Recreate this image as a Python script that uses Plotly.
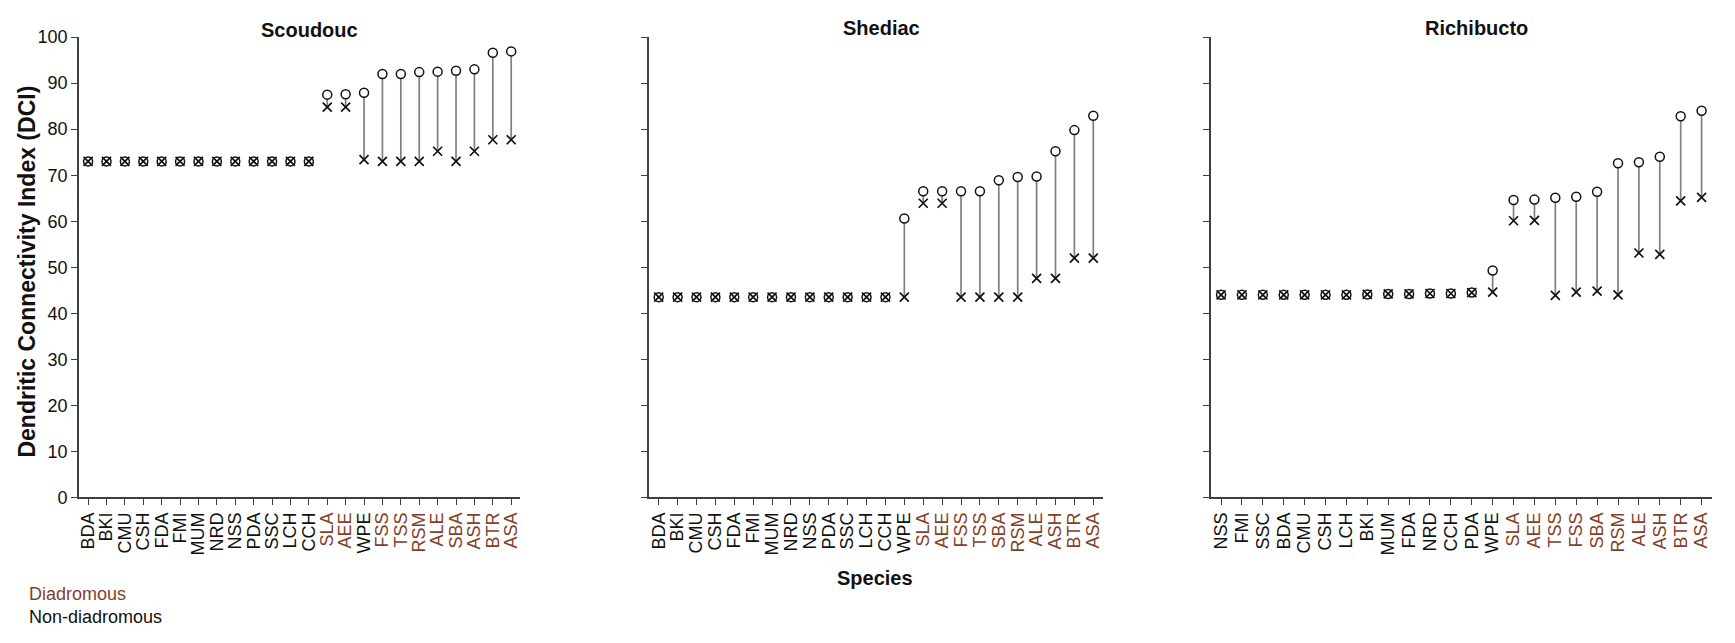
import plotly.graph_objects as go

# Species order per estuary (x axis categories)
scoudouc_species = ["BDA", "BKI", "CMU", "CSH", "FDA", "FMI", "MUM", "NRD", "NSS", "PDA",
                    "SSC", "LCH", "CCH", "SLA", "AEE", "WPE", "FSS", "TSS", "RSM", "ALE",
                    "SBA", "ASH", "BTR", "ASA"]
scoudouc_circle = [73.0, 73.0, 73.0, 73.0, 73.0, 73.0, 73.0, 73.0, 73.0, 73.0,
                   73.0, 73.0, 73.0, 87.5, 87.6, 87.9, 92.0, 92.0, 92.4, 92.5,
                   92.7, 93.0, 96.6, 96.9]
scoudouc_cross = [73.0, 73.0, 73.0, 73.0, 73.0, 73.0, 73.0, 73.0, 73.0, 73.0,
                  73.0, 73.0, 73.0, 84.8, 84.8, 73.4, 73.0, 73.0, 73.0, 75.2,
                  73.0, 75.2, 77.7, 77.7]

shediac_species = ["BDA", "BKI", "CMU", "CSH", "FDA", "FMI", "MUM", "NRD", "NSS", "PDA",
                   "SSC", "LCH", "CCH", "WPE", "SLA", "AEE", "FSS", "TSS", "SBA", "RSM",
                   "ALE", "ASH", "BTR", "ASA"]
shediac_circle = [43.5, 43.5, 43.5, 43.5, 43.5, 43.5, 43.5, 43.5, 43.5, 43.5,
                  43.5, 43.5, 43.5, 60.6, 66.5, 66.5, 66.5, 66.5, 68.9, 69.6,
                  69.7, 75.2, 79.8, 82.9]
shediac_cross = [43.5, 43.5, 43.5, 43.5, 43.5, 43.5, 43.5, 43.5, 43.5, 43.5,
                 43.5, 43.5, 43.5, 43.5, 63.9, 63.9, 43.5, 43.5, 43.5, 43.5,
                 47.6, 47.6, 52.0, 52.0]

richibucto_species = ["NSS", "FMI", "SSC", "BDA", "CMU", "CSH", "LCH", "BKI", "MUM", "FDA",
                      "NRD", "CCH", "PDA", "WPE", "SLA", "AEE", "TSS", "FSS", "SBA", "RSM",
                      "ALE", "ASH", "BTR", "ASA"]
richibucto_circle = [44.0, 44.0, 44.0, 44.0, 44.0, 44.0, 44.0, 44.1, 44.2, 44.2,
                     44.3, 44.3, 44.5, 49.3, 64.6, 64.7, 65.1, 65.3, 66.4, 72.6,
                     72.8, 74.0, 82.8, 84.0]
richibucto_cross = [44.0, 44.0, 44.0, 44.0, 44.0, 44.0, 44.0, 44.1, 44.2, 44.2,
                    44.3, 44.3, 44.5, 44.6, 60.1, 60.2, 43.9, 44.6, 44.8, 44.0,
                    53.1, 52.8, 64.4, 65.2]

diadromous = ["SLA", "AEE", "FSS", "TSS", "RSM", "ALE", "SBA", "ASH", "BTR", "ASA"]

panel_titles = ["Scoudouc", "Shediac", "Richibucto"]
y_ticks = [0, 10, 20, 30, 40, 50, 60, 70, 80, 90, 100]

BROWN = "#843f2b"
INK = "#111111"
FONT = "Liberation Sans, Arial, sans-serif"
W, H = 1735, 643

panels = [
    (scoudouc_species, scoudouc_circle, scoudouc_cross),
    (shediac_species, shediac_circle, shediac_cross),
    (richibucto_species, richibucto_circle, richibucto_cross),
]
# plot-area pixel extents (left, right) of each panel
x_px = [(78, 520), (649, 1103), (1211, 1713)]
y_bottom_px, y_top_px = 503, 28
title_px = [(309, 21), (882, 19), (1477, 19)]

fig = go.Figure()
layout = {}

for i, (species, circ, cross) in enumerate(panels):
    n = "" if i == 0 else str(i + 1)
    xa, ya = "x" + n, "y" + n

    # grey stems joining the two values of each species
    sx, sy = [], []
    for s, c, x in zip(species, circ, cross):
        if abs(c - x) > 0.05:
            sx += [s, s, None]
            sy += [c, x, None]
    fig.add_trace(go.Scatter(x=sx, y=sy, mode="lines", xaxis=xa, yaxis=ya,
                             line=dict(color="#7f7f7f", width=1.7),
                             hoverinfo="skip", showlegend=False))
    fig.add_trace(go.Scatter(x=species, y=circ, mode="markers", xaxis=xa, yaxis=ya,
                             marker=dict(symbol="circle", size=9, color="white",
                                         line=dict(color=INK, width=1.5)),
                             showlegend=False))
    fig.add_trace(go.Scatter(x=species, y=cross, mode="markers", xaxis=xa, yaxis=ya,
                             marker=dict(symbol="x-thin-open", size=9, color=INK,
                                         line=dict(color=INK, width=1.7)),
                             showlegend=False))

    ticktext = [f"<span style='color:{BROWN}'>{s}</span>" if s in diadromous else s
                for s in species]
    l, r = x_px[i]
    layout["xaxis" + n] = dict(
        domain=[l / W, r / W], anchor=ya, type="category",
        categoryarray=species, categoryorder="array",
        range=[-0.5, len(species) - 0.5],
        tickvals=species, ticktext=ticktext, tickangle=-90,
        tickfont=dict(family=FONT, size=18, color=INK),
        ticks="outside", ticklen=6, tickwidth=1.4, tickcolor="#404040",
        showline=True, linecolor="#404040", linewidth=1.7,
        showgrid=False, zeroline=False, fixedrange=True,
    )
    layout["yaxis" + n] = dict(
        domain=[(H - y_bottom_px) / H, (H - y_top_px) / H], anchor=xa,
        range=[0, 100], tickvals=y_ticks, showticklabels=(i == 0),
        tickfont=dict(family=FONT, size=18, color=INK),
        ticks="outside", ticklen=6, tickwidth=1.4, tickcolor="#404040",
        showline=True, linecolor="#404040", linewidth=1.7,
        showgrid=False, zeroline=False, fixedrange=True,
    )

annotations = []
for (tx, ty), t in zip(title_px, panel_titles):
    annotations.append(dict(text=f"<b>{t}</b>", x=tx / W, y=1 - ty / H, xref="paper",
                            yref="paper", showarrow=False, xanchor="center",
                            yanchor="middle", font=dict(family=FONT, size=20, color=INK)))
annotations += [
    dict(text="<b>Dendritic Connectivity Index (DCI)</b>", x=26 / W, y=1 - 270 / H,
         xref="paper", yref="paper", showarrow=False, textangle=-90,
         xanchor="center", yanchor="middle",
         font=dict(family=FONT, size=23, color=INK)),
    dict(text="<b>Species</b>", x=875 / W, y=1 - 586 / H, xref="paper", yref="paper",
         showarrow=False, xanchor="center", yanchor="middle",
         font=dict(family=FONT, size=20, color=INK)),
    dict(text="Diadromous", x=26 / W, y=1 - 603 / H, xref="paper", yref="paper",
         showarrow=False, xanchor="left", yanchor="middle",
         font=dict(family=FONT, size=18, color=BROWN)),
    dict(text="Non-diadromous", x=26 / W, y=1 - 627 / H, xref="paper", yref="paper",
         showarrow=False, xanchor="left", yanchor="middle",
         font=dict(family=FONT, size=18, color=INK)),
]

fig.update_layout(
    width=W, height=H, margin=dict(l=0, r=0, t=0, b=0),
    paper_bgcolor="white", plot_bgcolor="white",
    showlegend=False, hovermode=False,
    annotations=annotations, **layout,
)

fig.write_html("out.html", config={"displayModeBar": False})
